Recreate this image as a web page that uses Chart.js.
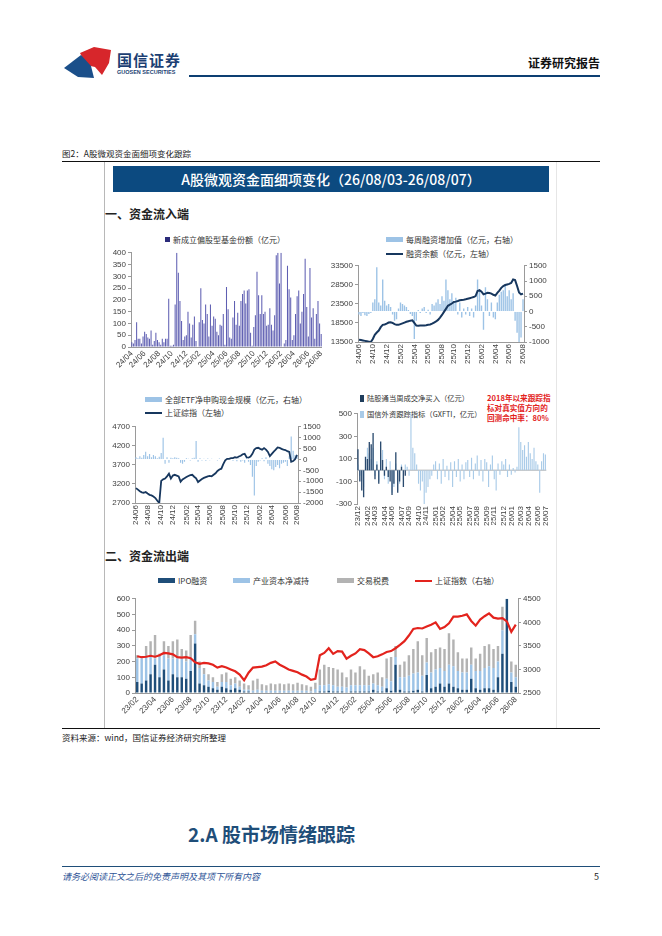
<!DOCTYPE html>
<html>
<head>
<meta charset="utf-8">
<script src="https://cdn.jsdelivr.net/npm/chart.js@4.4.1/dist/chart.umd.min.js"></script>
<style>
body{margin:0;background:#fff;width:662px;height:936px;position:relative;overflow:hidden;font-family:'Noto Sans CJK SC','Noto Sans',sans-serif;color:#222;}
.a{position:absolute;white-space:nowrap;}
.lg{position:absolute;white-space:nowrap;font-size:8px;line-height:10px;color:#333;}
.lg i{display:inline-block;vertical-align:middle;margin-right:3px;position:relative;top:-1px;}
canvas{display:block;}
</style>
</head>
<body>
<!-- header -->
<svg class="a" style="left:64px;top:46px" width="50" height="34" viewBox="0 0 50 34">
  <polygon points="16,7 30,1 47,4 45,17 38,29 31,21 22,19" fill="#d7262b"/>
  <polygon points="0,22 17,9 27,20 30,32 14,31" fill="#1b4f8a"/>
</svg>
<div class="a" style="left:117px;top:49px;font-size:15px;font-weight:700;color:#1c3f73;letter-spacing:1px;">国信证券</div>
<div class="a" style="left:117px;top:69px;font-size:5.5px;font-weight:700;color:#1c3f73;font-family:'Liberation Sans',sans-serif;">GUOSEN SECURITIES</div>
<div class="a" style="left:189px;top:75px;width:411px;height:2px;background:#0d3f72;"></div>
<div class="a" style="left:528px;top:54px;font-size:12px;font-weight:700;color:#111;">证券研究报告</div>

<!-- figure frame -->
<div class="a" style="left:62px;top:147px;font-size:8.5px;color:#222;">图2：A股微观资金面细项变化跟踪</div>
<div class="a" style="left:62px;top:161px;width:538px;height:1px;background:#111;"></div>
<div class="a" style="left:104px;top:162px;width:1px;height:566px;background:#b8b8b8;"></div>
<div class="a" style="left:556px;top:162px;width:1px;height:566px;background:#e6e6e6;"></div>
<div class="a" style="left:113px;top:166px;width:436px;height:26px;background:#0c4a80;"></div>
<div class="a" style="left:113px;top:166px;width:436px;height:26px;line-height:26px;text-align:center;color:#fff;font-size:14px;font-weight:500;">A股微观资金面细项变化（26/08/03-26/08/07）</div>
<div class="a" style="left:105px;top:205px;font-size:12px;font-weight:700;color:#222;">一、资金流入端</div>
<div class="a" style="left:105px;top:547px;font-size:12px;font-weight:700;color:#222;">二、资金流出端</div>

<!-- legends -->
<div class="lg" style="left:165px;top:235px;"><i style="width:5px;height:5px;background:#2b2b7a"></i>新成立偏股型基金份额（亿元）</div>
<div class="lg" style="left:386px;top:235px;"><i style="width:17px;height:5px;background:#9dc3e6"></i>每周融资增加值（亿元，右轴）</div>
<div class="lg" style="left:386px;top:249px;"><i style="width:17px;height:2px;background:#17375e"></i>融资余额（亿元，左轴）</div>
<div class="lg" style="left:145px;top:395px;"><i style="width:17px;height:5px;background:#9dc3e6"></i>全部ETF净申购现金规模（亿元，右轴）</div>
<div class="lg" style="left:145px;top:408px;"><i style="width:17px;height:2px;background:#17375e"></i>上证综指（左轴）</div>
<div class="lg" style="left:360px;top:393px;font-size:7.3px;"><i style="width:4px;height:7px;background:#1f3d5c"></i>陆股通当周成交净买入（亿元）</div>
<div class="lg" style="left:360px;top:409px;font-size:7.3px;"><i style="width:4px;height:7px;background:#a9cbe8"></i>国信外资跟踪指标（GXFTI，亿元）</div>
<div class="lg" style="left:487px;top:393px;color:#e3231d;font-weight:700;font-size:7.6px;">2018年以来跟踪指<br>标对真实值方向的<br>回测命中率：80%</div>
<div class="lg" style="left:158px;top:576px;"><i style="width:17px;height:5px;background:#1f4e79"></i>IPO融资</div>
<div class="lg" style="left:233px;top:576px;"><i style="width:17px;height:5px;background:#9dc3e6"></i>产业资本净减持</div>
<div class="lg" style="left:337px;top:576px;"><i style="width:17px;height:5px;background:#b3b3b3"></i>交易税费</div>
<div class="lg" style="left:415px;top:576px;"><i style="width:17px;height:2px;background:#e3231d"></i>上证指数（右轴）</div>

<!-- charts -->
<div class="a" style="left:106px;top:246px;"><canvas id="c1" width="224" height="128"></canvas></div>
<div class="a" style="left:328px;top:259px;"><canvas id="c2" width="225" height="112"></canvas></div>
<div class="a" style="left:106px;top:420px;"><canvas id="c3" width="217" height="113"></canvas></div>
<div class="a" style="left:333px;top:407px;"><canvas id="c4" width="224" height="125"></canvas></div>
<div class="a" style="left:110px;top:592px;"><canvas id="c5" width="433" height="126"></canvas></div>

<!-- bottom of page -->
<div class="a" style="left:62px;top:728px;width:538px;height:1px;background:#111;"></div>
<div class="a" style="left:62px;top:731px;font-size:8.5px;color:#222;">资料来源：wind，国信证券经济研究所整理</div>
<div class="a" style="left:188px;top:820px;font-size:19px;font-weight:700;color:#1f4e79;">2.A 股市场情绪跟踪</div>
<div class="a" style="left:62px;top:866px;width:538px;height:1px;background:#1f4e79;"></div>
<div class="a" style="left:62px;top:870px;font-size:9px;font-style:italic;color:#2f5597;">请务必阅读正文之后的免责声明及其项下所有内容</div>
<div class="a" style="left:594px;top:870px;font-size:9px;color:#222;">5</div>

<script>
// 新成立偏股型基金份额（亿元），周度
const fundTicks = ['24/04','24/06','24/08','24/10','24/12','25/02','25/04','25/06','25/08','25/10','25/12','26/02','26/04','26/06','26/08'];
const fundShares = [20,15,30,105,35,35,15,45,65,55,40,35,70,10,25,60,30,20,10,35,20,35,35,
  205,5,5,10,180,400,315,195,110,30,45,50,150,100,40,95,130,25,0,
  105,250,115,100,180,140,45,180,90,130,120,65,50,95,90,140,10,
  255,160,40,35,125,195,95,145,90,195,225,240,185,240,245,60,5,
  85,135,320,220,140,220,140,150,90,95,165,95,70,135,390,400,270,400,
  0,15,30,345,245,210,30,50,140,215,240,100,150,225,375,170,45,335,125,165,35,140,195,100,55];

// 融资余额（左轴）与每周融资增加值（右轴）
const marginTicks = ['24/06','24/10','24/12','25/02','25/04','25/06','25/08','25/10','25/12','26/02','26/04','26/06','26/08'];
const marginBalance = [14100,14000,13900,13800,13700,13600,13500,14300,15400,16000,
  16500,17400,18000,18100,18300,18600,18700,18500,18200,18000,
  18000,18200,18400,18600,18800,18950,19100,19200,18500,17800,
  17750,17800,17800,17850,17900,18000,18100,18300,18600,18900,
  19300,19900,20600,21400,22200,23000,23300,23600,24000,24100,
  24250,24450,24550,24600,24700,24850,25000,25150,25300,25550,
  26900,27100,26700,26000,26200,26400,26350,26200,25900,25700,
  26400,27000,27700,28200,28450,28600,28750,29000,29900,29750,
  28200,26500,26000,26200];
const marginChange = [-100,-150,-50,-120,-150,-80,-50,300,400,1450,
  300,200,1050,350,200,250,150,-100,-300,-250,
  100,300,250,200,150,50,-80,-150,-900,-300,
  50,-50,100,150,-50,60,-100,250,200,300,
  400,250,500,350,1050,700,400,600,300,450,
  -100,300,-200,100,-100,150,-150,100,-200,200,
  1050,700,200,-600,800,400,-150,300,-200,-250,
  300,550,650,700,900,500,700,400,600,-300,
  -700,-1000,-850,400];

// 全部ETF净申购（右轴）与上证综指（左轴）
const etfTicks = ['24/06','24/08','24/10','24/12','25/02','25/04','25/06','25/08','25/10','25/12','26/02','26/04','26/06','26/08'];
const shIndex = [3090,3050,3010,2980,2970,2990,2950,2915,2900,2870,
  2830,2760,2700,3280,3320,3340,3400,3470,3340,3420,
  3440,3420,3400,3260,3320,3350,3380,3410,3430,3440,
  3390,3350,3250,3290,3330,3360,3380,3400,3410,3400,
  3440,3480,3540,3580,3600,3720,3820,3860,3860,3880,
  3880,3900,3890,3920,3940,3980,3990,3900,3890,3920,
  3990,4100,4140,4150,4120,4100,4140,4100,4040,3930,
  3990,4050,4100,4160,4150,4120,4100,4090,4060,4040,
  3780,3800,3850,3960];
const etfFlow = [100,50,150,80,200,350,150,250,100,200,
  150,50,120,300,1000,-200,100,-150,80,50,
  100,80,50,-150,-200,-100,50,30,-50,50,
  80,850,-100,50,-50,30,-60,40,-40,30,
  -30,20,-50,40,-30,20,-40,30,-20,50,
  -60,30,-80,40,-100,-50,-150,80,-100,-250,
  -800,-1650,-300,-100,-50,50,-80,100,-200,-300,
  -450,-500,-350,-250,-400,-200,-150,-100,-300,150,
  1050,400,200,150];

// 陆股通当周成交净买入 与 国信外资跟踪指标
const foreignTicks = ['23/12','24/02','24/03','24/04','24/06','24/07','24/09','24/10','24/11','25/01','25/02','25/04','25/05','25/07','25/08','25/09','25/11','25/12','26/01','26/03','26/04','26/06','26/07'];
const northbound = [185,-100,-180,-240,120,100,250,230,330,-80,50,-120,255,90,-50,30,-60,-100,-220,-120,160,-200,-100,30,-150,-50];
const gxfti = [50,-50,-100,-150,100,200,150,100,200,-50,
  80,-100,150,180,-80,100,-120,80,-200,-150,
  60,-180,-120,50,-80,50,30,-50,600,200,
  150,50,-120,-180,-100,-300,-200,-150,-80,-50,
  50,80,-80,60,-120,100,-60,40,-90,70,
  -150,80,-60,100,-100,50,-80,70,90,-60,
  110,-80,60,130,-50,90,-100,100,70,-150,
  50,130,-80,-180,60,-40,80,50,100,-60,
  50,-40,20,-20,30,380,250,180,220,120,
  250,150,100,200,80,50,-200,80,150,140];

// 资金流出端：IPO融资、产业资本净减持、交易税费（左轴）与上证指数（右轴），半月度
const outTicks = ['23/02','23/04','23/06','23/08','23/10','23/12','24/02','24/04','24/06','24/08','24/10','24/12','25/02','25/04','25/06','25/08','25/10','25/12','26/02','26/04','26/06','26/08'];
const ipo = [70,60,80,120,180,100,150,80,120,100,
  100,90,140,315,60,50,40,30,20,40,
  30,20,30,20,10,10,5,5,5,5,
  5,5,5,5,5,5,5,5,5,5,
  5,10,10,15,10,10,10,5,10,10,
  10,10,10,20,10,10,30,15,180,20,
  10,10,15,20,10,115,30,40,60,40,
  60,40,30,20,20,90,30,20,30,30,
  20,100,250,600,70,40];
const reduction = [150,160,150,110,40,130,90,140,100,120,
  120,110,90,60,100,70,40,40,20,30,
  40,30,30,20,10,10,10,15,10,10,
  10,10,10,10,10,10,10,10,10,5,
  20,40,40,40,40,30,30,30,40,40,
  40,40,40,40,40,30,60,60,50,80,
  90,100,110,110,100,80,100,110,100,100,
  120,130,110,110,110,90,110,120,130,140,
  140,100,150,0,60,60];
const fees = [20,10,70,100,150,20,90,80,110,120,
  60,70,140,85,40,40,40,30,30,50,
  60,40,40,40,40,30,65,70,40,35,
  45,40,45,40,45,40,50,40,35,30,
  40,100,130,110,110,110,90,65,100,80,
  120,100,60,60,80,60,130,155,70,80,
  100,130,155,200,130,155,130,130,130,140,
  200,170,120,90,90,110,80,110,140,140,
  120,100,150,0,70,80];
const shIndex2 = [3280,3260,3270,3290,3270,3300,3350,3340,3320,3260,
  3250,3260,3240,3150,3120,3140,3130,3100,3040,3070,
  3040,3000,2960,2890,2770,2930,3040,3050,3060,3090,
  3140,3170,3100,3050,3000,2970,2940,2890,2850,2780,
  2800,3300,3350,3450,3330,3390,3380,3230,3290,3340,
  3430,3410,3340,3260,3280,3320,3370,3390,3450,3520,
  3600,3720,3860,3880,3870,3910,3950,4000,3860,3900,
  3980,4120,4120,4140,4170,4030,3930,4060,4130,4190,
  4100,4080,4090,4020,3800,3950];

const tickFont = {family: "'Liberation Sans','DejaVu Sans',sans-serif", size: 8};
const axisGrey = '#9a9a9a';

function yAxis(min, max, step, pos, width) {
  return {
    type: 'linear', position: pos, min: min, max: max,
    ticks: {stepSize: step, autoSkip: false, font: tickFont, color: '#404040', padding: 2, callback: v => String(v)},
    grid: {drawOnChartArea: false, tickLength: 3, color: axisGrey},
    border: {color: axisGrey},
    afterFit: s => { s.width = width; }
  };
}

function xAxis(n, labels, rot, height, showBorder) {
  const idx = labels.map((_, i) => Math.round(i * (n - 1) / (labels.length - 1)));
  return {
    type: 'category', offset: true,
    afterBuildTicks: s => { s.ticks = idx.map(v => ({value: v})); },
    ticks: {autoSkip: false, minRotation: rot, maxRotation: rot, font: tickFont, color: '#404040', padding: 2,
      callback: (v, i) => labels[i]},
    grid: {drawOnChartArea: false, drawTicks: false},
    border: {display: showBorder, color: axisGrey},
    afterFit: s => { s.height = height; }
  };
}

const zeroLine = {
  id: 'zeroLine',
  beforeDatasetsDraw(chart) {
    const y = chart.scales.y.getPixelForValue(0);
    const a = chart.chartArea;
    const ctx = chart.ctx;
    ctx.save();
    ctx.strokeStyle = '#b0b0b0';
    ctx.lineWidth = 1;
    ctx.beginPath();
    ctx.moveTo(a.left, y);
    ctx.lineTo(a.right, y);
    ctx.stroke();
    ctx.restore();
  }
};

const base = {
  responsive: false,
  animation: false,
  plugins: {legend: {display: false}, tooltip: {enabled: false}}
};

// 新成立偏股型基金
new Chart(document.getElementById('c1'), {
  type: 'bar',
  data: {
    labels: fundShares.map((_, i) => i),
    datasets: [{data: fundShares, backgroundColor: '#5f5fb2', barPercentage: 0.65, categoryPercentage: 1}]
  },
  options: Object.assign({}, base, {
    layout: {padding: {top: 6, right: 4}},
    scales: {
      x: xAxis(fundShares.length, fundTicks, 45, 27, true),
      y: yAxis(0, 400, 50, 'left', 25)
    }
  })
});

// 融资余额
new Chart(document.getElementById('c2'), {
  type: 'bar',
  data: {
    labels: marginBalance.map((_, i) => i),
    datasets: [
      {type: 'line', data: marginBalance, yAxisID: 'y', borderColor: '#17375e', borderWidth: 2, pointRadius: 0, tension: 0, order: 0},
      {data: marginChange, yAxisID: 'y2', backgroundColor: '#9dc3e6', barPercentage: 0.7, categoryPercentage: 1, order: 1}
    ]
  },
  options: Object.assign({}, base, {
    layout: {padding: {top: 6}},
    scales: {
      x: xAxis(marginBalance.length, marginTicks, 90, 29, true),
      y: yAxis(13500, 33500, 5000, 'left', 30),
      y2: yAxis(-1000, 1500, 500, 'right', 29)
    }
  })
});

// ETF 与上证综指
new Chart(document.getElementById('c3'), {
  type: 'bar',
  data: {
    labels: shIndex.map((_, i) => i),
    datasets: [
      {type: 'line', data: shIndex, yAxisID: 'y', borderColor: '#17375e', borderWidth: 1.8, pointRadius: 0, tension: 0, order: 0},
      {data: etfFlow, yAxisID: 'y2', backgroundColor: '#9dc3e6', barPercentage: 0.6, categoryPercentage: 1, order: 1}
    ]
  },
  options: Object.assign({}, base, {
    layout: {padding: {top: 6}},
    scales: {
      x: xAxis(shIndex.length, etfTicks, 90, 30, true),
      y: yAxis(2700, 4700, 500, 'left', 29),
      y2: yAxis(-2000, 1500, 500, 'right', 25)
    }
  })
});

// 外资
new Chart(document.getElementById('c4'), {
  type: 'bar',
  data: {
    labels: gxfti.map((_, i) => i),
    datasets: [
      {data: northbound, backgroundColor: '#2a4a6e', grouped: false, barPercentage: 0.7, categoryPercentage: 1, order: 0},
      {data: gxfti, backgroundColor: '#a9cbe8', grouped: false, barPercentage: 0.6, categoryPercentage: 1, order: 1}
    ]
  },
  options: Object.assign({}, base, {
    layout: {padding: {top: 6, right: 4}},
    scales: {
      x: xAxis(gxfti.length, foreignTicks, 90, 28, false),
      y: yAxis(-300, 500, 200, 'left', 24)
    }
  }),
  plugins: [zeroLine]
});

// 资金流出端
const x5 = xAxis(ipo.length, outTicks, 45, 25, true);
x5.stacked = true;
const y5 = yAxis(0, 600, 100, 'left', 25);
y5.stacked = true;
new Chart(document.getElementById('c5'), {
  type: 'bar',
  data: {
    labels: ipo.map((_, i) => i),
    datasets: [
      {type: 'line', data: shIndex2, yAxisID: 'y2', borderColor: '#e3231d', borderWidth: 2.2, pointRadius: 0, tension: 0, order: 0},
      {data: ipo, yAxisID: 'y', backgroundColor: '#1f4e79', barPercentage: 0.55, categoryPercentage: 1, order: 1},
      {data: reduction, yAxisID: 'y', backgroundColor: '#9dc3e6', barPercentage: 0.55, categoryPercentage: 1, order: 2},
      {data: fees, yAxisID: 'y', backgroundColor: '#b3b3b3', barPercentage: 0.55, categoryPercentage: 1, order: 3}
    ]
  },
  options: Object.assign({}, base, {
    layout: {padding: {top: 6}},
    scales: {
      x: x5,
      y: y5,
      y2: yAxis(2500, 4500, 500, 'right', 25)
    }
  })
});
</script>
</body>
</html>
